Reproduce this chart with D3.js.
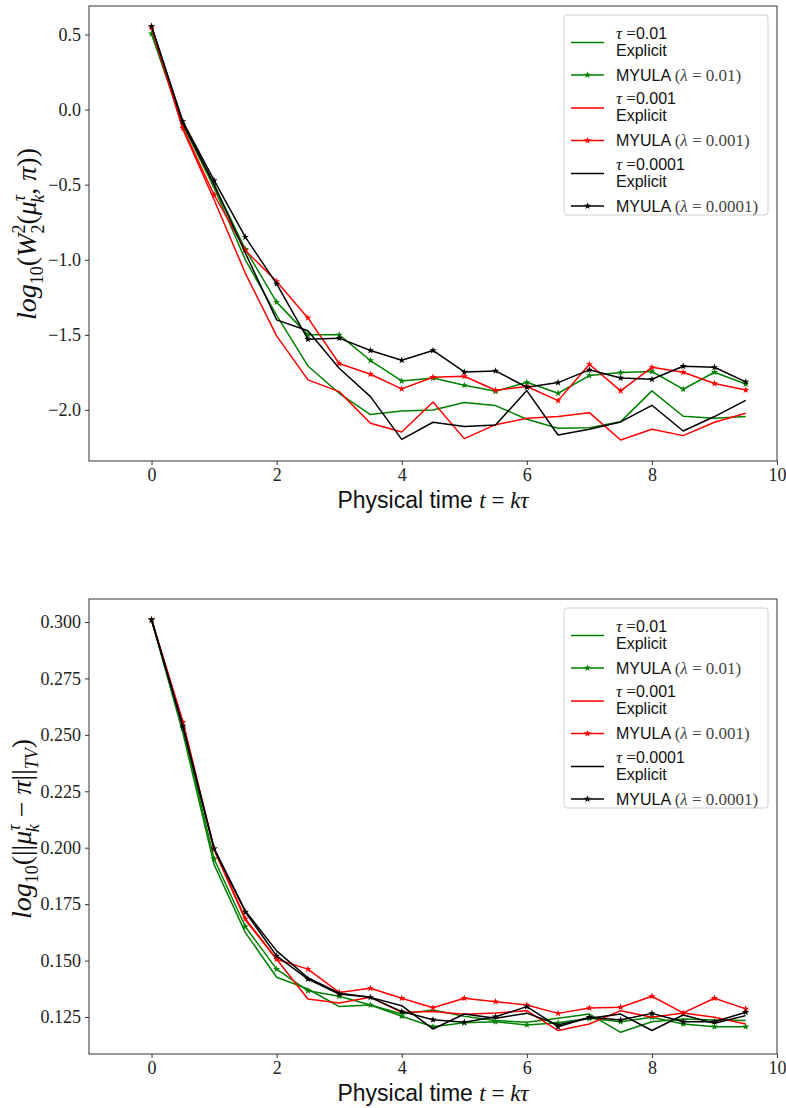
<!DOCTYPE html>
<head>
  <meta charset="utf-8">
  <script src="https://cdnjs.cloudflare.com/ajax/libs/d3/7.8.5/d3.min.js"></script>
  <style>
    body { margin:0; background:#fff; }
    svg { display:block; }
  </style>
</head>
<body>
  <script>
    // physical time t = k*tau, sampled every 0.5
    var T = [0, 0.5, 1, 1.5, 2, 2.5, 3, 3.5, 4, 4.5, 5, 5.5, 6, 6.5, 7, 7.5, 8, 8.5, 9, 9.5];
    var X_TICKS = [0, 2, 4, 6, 8, 10];
    var SERIES_COLORS = ["green", "green", "red", "red", "black", "black"];
    var TAUS = ["0.01", "0.001", "0.0001"];

    // top panel: log10 W2^2
    var W2_EXPL_1 = [0.505, -0.10, -0.52, -1.00, -1.37, -1.707, -1.889, -2.031, -2.007, -2.000, -1.951, -1.971, -2.062, -2.122, -2.118, -2.078, -1.873, -2.042, -2.056, -2.044];
    var W2_MYULA_1 = [0.505, -0.10, -0.50, -0.93, -1.282, -1.50, -1.50, -1.671, -1.807, -1.787, -1.836, -1.876, -1.816, -1.889, -1.771, -1.751, -1.744, -1.862, -1.749, -1.827];
    var W2_EXPL_2 = [0.545, -0.13, -0.60, -1.09, -1.507, -1.80, -1.878, -2.089, -2.147, -1.947, -2.191, -2.098, -2.056, -2.044, -2.018, -2.20, -2.129, -2.171, -2.082, -2.022];
    var W2_MYULA_2 = [0.545, -0.122, -0.567, -0.938, -1.144, -1.387, -1.691, -1.762, -1.86, -1.782, -1.776, -1.869, -1.844, -1.938, -1.696, -1.873, -1.716, -1.749, -1.824, -1.867];
    var W2_EXPL_3 = [0.555, -0.09, -0.50, -0.955, -1.40, -1.473, -1.722, -1.911, -2.196, -2.082, -2.111, -2.10, -1.871, -2.167, -2.129, -2.08, -1.969, -2.14, -2.044, -1.936];
    var W2_MYULA_3 = [0.556, -0.078, -0.471, -0.849, -1.16, -1.529, -1.522, -1.604, -1.669, -1.604, -1.747, -1.74, -1.849, -1.818, -1.733, -1.787, -1.796, -1.709, -1.716, -1.813];
    var W2_TICKS = [0.5, 0, -0.5, -1, -1.5, -2];

    // bottom panel: log10 TV distance
    var TV_EXPL_1 = [0.301, 0.251, 0.1925, 0.1624, 0.1426, 0.1374, 0.1296, 0.1303, 0.1263, 0.1281, 0.1253, 0.1234, 0.1227, 0.1244, 0.1263, 0.1182, 0.1229, 0.1241, 0.1237, 0.1234];
    var TV_MYULA_1 = [0.301, 0.253, 0.195, 0.1650, 0.1462, 0.1366, 0.1342, 0.1303, 0.1253, 0.1207, 0.1224, 0.1229, 0.1215, 0.1224, 0.1244, 0.1229, 0.1249, 0.1219, 0.1207, 0.1207];
    var TV_EXPL_2 = [0.301, 0.256, 0.199, 0.168, 0.1506, 0.133, 0.1312, 0.1337, 0.1271, 0.1274, 0.1262, 0.1268, 0.1278, 0.1190, 0.1219, 0.1278, 0.1249, 0.1268, 0.1249, 0.1219];
    var TV_MYULA_2 = [0.301, 0.2555, 0.1996, 0.1686, 0.1506, 0.1462, 0.1359, 0.1377, 0.1333, 0.1291, 0.1333, 0.1318, 0.1303, 0.1266, 0.1290, 0.1293, 0.1342, 0.1268, 0.1333, 0.1286];
    var TV_EXPL_3 = [0.301, 0.254, 0.1996, 0.172, 0.1543, 0.1424, 0.1355, 0.1337, 0.1300, 0.1197, 0.1263, 0.1244, 0.1267, 0.1216, 0.1244, 0.1263, 0.1190, 0.1259, 0.1222, 0.1256];
    var TV_MYULA_3 = [0.301, 0.2537, 0.1996, 0.1715, 0.1521, 0.1418, 0.1352, 0.1337, 0.1274, 0.1238, 0.1227, 0.1251, 0.1296, 0.1207, 0.1249, 0.1237, 0.1266, 0.1229, 0.1229, 0.1271];
    var TV_TICKS = [0.300, 0.275, 0.250, 0.225, 0.200, 0.175, 0.150, 0.125];

    var SERIF = "'Liberation Serif', 'DejaVu Serif', serif";
    var SANS = "'Liberation Sans', Arial, sans-serif";
    var AXIS_COLOR = "#333";

    var svg = d3.select("body").append("svg")
      .attr("width", 786)
      .attr("height", 1108);

    // axes box geometry (pixels)
    var left = 89, right = 777, plotH = 455;

    function drawPanel(top, series, yDomain, yTicks, yFmt, ylabelParts, ylabelX, ylabelY) {
      var g = svg.append("g").attr("transform", "translate(0," + top + ")");
      var x = d3.scaleLinear().domain([-1, 10]).range([left, right]);
      var y = d3.scaleLinear().domain(yDomain).range([plotH, 0]);

      var line = d3.line()
        .x(function(d, i) { return x(T[i]); })
        .y(function(d) { return y(d); });

      series.forEach(function(s, idx) {
        g.append("path")
          .datum(s.values)
          .attr("d", line)
          .attr("fill", "none")
          .attr("stroke", SERIES_COLORS[idx])
          .attr("stroke-width", 1.5)
          .attr("stroke-linejoin", "round");
        if (s.marker) {
          g.append("g").selectAll("path").data(s.values).enter().append("path")
            .attr("d", d3.symbol().type(d3.symbolStar).size(16))
            .attr("transform", function(d, i) { return "translate(" + x(T[i]) + "," + y(d) + ")"; })
            .attr("fill", SERIES_COLORS[idx]);
        }
      });

      // frame
      g.append("rect")
        .attr("x", left).attr("y", 0)
        .attr("width", right - left).attr("height", plotH)
        .attr("fill", "none").attr("stroke", AXIS_COLOR).attr("stroke-width", 1);

      var xAxis = g.append("g")
        .attr("transform", "translate(0," + plotH + ")")
        .call(d3.axisBottom(x).tickValues(X_TICKS).tickSize(4).tickPadding(3).tickFormat(d3.format("d")));
      var yAxis = g.append("g")
        .attr("transform", "translate(" + left + ",0)")
        .call(d3.axisLeft(y).tickValues(yTicks).tickSize(4).tickPadding(4).tickFormat(yFmt));
      [xAxis, yAxis].forEach(function(a) {
        a.select(".domain").remove();
        a.selectAll("line").attr("stroke", AXIS_COLOR);
        a.selectAll("text").attr("fill", "#222").style("font-family", SERIF).style("font-size", "18px");
      });

      // x label
      var xl = g.append("text")
        .attr("x", 433).attr("y", plotH + 47)
        .attr("text-anchor", "middle")
        .attr("fill", "#111")
        .style("font-size", "23px");
      xl.append("tspan").style("font-family", SANS).text("Physical time ");
      xl.append("tspan").style("font-family", SERIF).style("font-style", "italic").text("t");
      xl.append("tspan").style("font-family", SERIF).text(" = ");
      xl.append("tspan").style("font-family", SERIF).style("font-style", "italic").text("kτ");

      // y label
      var yl = g.append("text")
        .attr("transform", "translate(" + ylabelX + "," + ylabelY + ") rotate(-90)")
        .attr("text-anchor", "middle")
        .attr("fill", "#111")
        .style("font-family", SERIF)
        .style("font-size", "28px");
      ylabelParts.forEach(function(p) {
        var ts = yl.append("tspan").text(p.t);
        if (p.it) ts.style("font-style", "italic");
        if (p.size) ts.style("font-size", p.size + "px");
        if (p.dy) ts.attr("dy", p.dy);
        if (p.dx) ts.attr("dx", p.dx);
      });

      // legend
      var lg = g.append("g").attr("transform", "translate(564,9)");
      lg.append("rect")
        .attr("width", 204).attr("height", 200).attr("rx", 3)
        .attr("fill", "#fff").attr("fill-opacity", 0.85)
        .attr("stroke", "#d0d0d0");
      TAUS.forEach(function(tau, k) {
        var base = k * 65.5;
        var cE = SERIES_COLORS[2 * k], cM = SERIES_COLORS[2 * k + 1];
        lg.append("line").attr("x1", 7).attr("x2", 40)
          .attr("y1", base + 27.5).attr("y2", base + 27.5)
          .attr("stroke", cE).attr("stroke-width", 1.5);
        var t1 = lg.append("text").attr("x", 52).attr("y", base + 23.5).style("font-size", "16px").attr("fill", "#111");
        t1.append("tspan").style("font-family", SERIF).style("font-style", "italic").style("font-size", "17px").text("τ");
        t1.append("tspan").style("font-family", SERIF).style("font-size", "17px").text(" =");
        t1.append("tspan").style("font-family", SANS).text(tau);
        lg.append("text").attr("x", 52).attr("y", base + 40.5).style("font-size", "16px")
          .style("font-family", SANS).attr("fill", "#111").text("Explicit");

        lg.append("line").attr("x1", 7).attr("x2", 40)
          .attr("y1", base + 60).attr("y2", base + 60)
          .attr("stroke", cM).attr("stroke-width", 1.5);
        lg.append("path")
          .attr("d", d3.symbol().type(d3.symbolStar).size(16))
          .attr("transform", "translate(23.5," + (base + 60) + ")")
          .attr("fill", cM);
        var t2 = lg.append("text").attr("x", 52).attr("y", base + 65.5).style("font-size", "16px").attr("fill", "#111");
        t2.append("tspan").style("font-family", SANS).text("MYULA ");
        t2.append("tspan").style("font-family", SERIF).style("font-size", "17px").attr("fill", "#444").text("(");
        t2.append("tspan").style("font-family", SERIF).style("font-size", "17px").style("font-style", "italic").attr("fill", "#444").text("λ");
        t2.append("tspan").style("font-family", SERIF).style("font-size", "17px").attr("fill", "#444").text(" = " + tau + ")");
      });
    }

    var fmt1 = function(d) { return d3.format(".1f")(d); };
    var fmt3 = d3.format(".3f");

    drawPanel(6, [
        { values: W2_EXPL_1 }, { values: W2_MYULA_1, marker: true },
        { values: W2_EXPL_2 }, { values: W2_MYULA_2, marker: true },
        { values: W2_EXPL_3 }, { values: W2_MYULA_3, marker: true }
      ], [-2.34, 0.69], W2_TICKS, fmt1,
      [
        { t: "log", it: true },
        { t: "10", size: 18, dy: 7 },
        { t: "(", dy: -7 },
        { t: "W", it: true },
        { t: "2", size: 18, dy: -11 },
        { t: "2", size: 18, dx: -9, dy: 19 },
        { t: "(", dy: -8 },
        { t: "μ", it: true },
        { t: "τ", it: true, size: 18, dy: -11 },
        { t: "k", it: true, size: 18, dx: -8, dy: 19 },
        { t: ", ", dy: -8 },
        { t: "π", it: true },
        { t: "))" }
      ], 36, 228);

    drawPanel(599, [
        { values: TV_EXPL_1 }, { values: TV_MYULA_1, marker: true },
        { values: TV_EXPL_2 }, { values: TV_MYULA_2, marker: true },
        { values: TV_EXPL_3 }, { values: TV_MYULA_3, marker: true }
      ], [0.1086, 0.3102], TV_TICKS, fmt3,
      [
        { t: "log", it: true },
        { t: "10", size: 18, dy: 7 },
        { t: "(||", dy: -7 },
        { t: "μ", it: true },
        { t: "τ", it: true, size: 18, dy: -11 },
        { t: "k", it: true, size: 18, dx: -8, dy: 19 },
        { t: " − ", dy: -8 },
        { t: "π", it: true },
        { t: "||" },
        { t: "TV", it: true, size: 18, dy: 7 },
        { t: ")", dy: -7 }
      ], 31, 230);
  </script>
</body>
